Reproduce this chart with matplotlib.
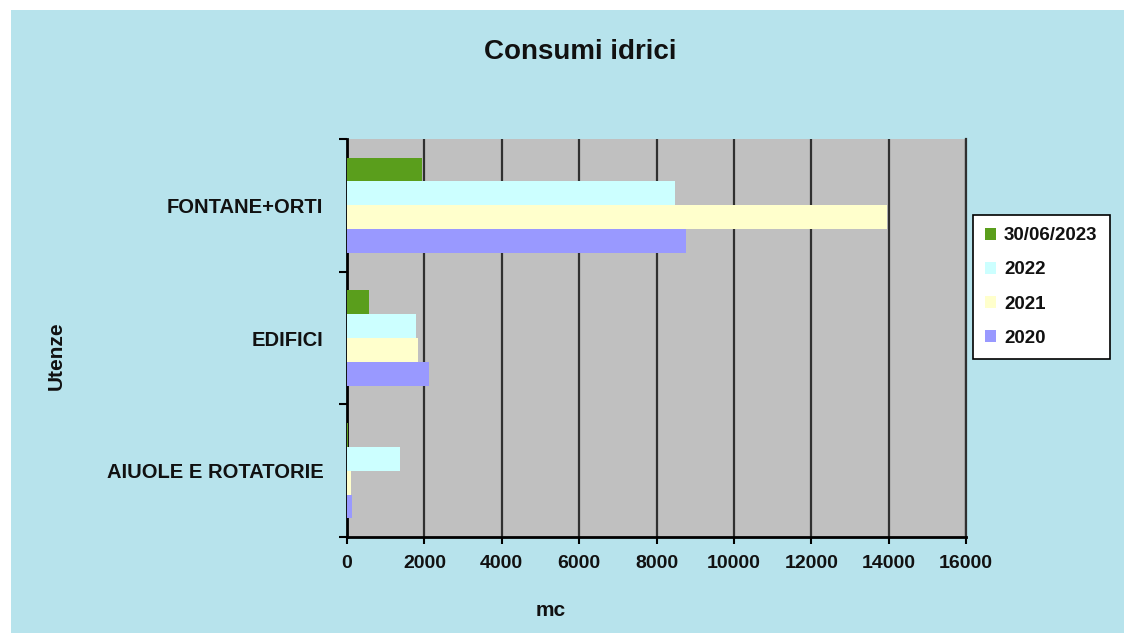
import matplotlib
matplotlib.use("Agg")
import matplotlib.pyplot as plt
import numpy as np
from matplotlib.patches import Rectangle

categories = ["AIUOLE E ROTATORIE", "EDIFICI", "FONTANE+ORTI"]
series_names = ["30/06/2023", "2022", "2021", "2020"]
v_2023 = [20, 570, 1950]
v_2022 = [1380, 1785, 8480]
v_2021 = [110, 1835, 13950]
v_2020 = [120, 2115, 8750]
x_ticks = [0, 2000, 4000, 6000, 8000, 10000, 12000, 14000, 16000]

colors = ["#5a9e1c", "#ccffff", "#ffffcc", "#9999ff"]
font = "Liberation Sans"

fig = plt.figure(figsize=(11.24, 6.33), dpi=100)
fig.patch.set_facecolor("white")
fig.patches.append(Rectangle((11/1124, 0), 1 - 11/1124, 1 - 10/633,
                             transform=fig.transFigure, facecolor="#b7e3ec",
                             edgecolor="none", zorder=-10))

ax = fig.add_axes([347/1124, 96/633, 619/1124, 398/633])
ax.set_facecolor("#c0c0c0")

y = np.arange(len(categories))
h = 0.18
offsets = [0.27, 0.09, -0.09, -0.27]
for vals, off, c, name in zip([v_2023, v_2022, v_2021, v_2020], offsets, colors, series_names):
    ax.barh(y + off, vals, height=h, color=c, edgecolor="none", label=name, zorder=3)

ax.set_xlim(0, 16000)
ax.set_ylim(-0.5, 2.5)
ax.set_xticks(x_ticks)
ax.set_xticklabels([str(t) for t in x_ticks], fontsize=14, fontweight="bold", family=font, color="#111111")
ax.xaxis.grid(True, color="#303030", linewidth=1.6, zorder=1)
ax.set_axisbelow(True)

ax.set_yticks([-0.5, 0.5, 1.5, 2.5])
ax.set_yticklabels([])
ax.set_yticks(y, minor=True)
ax.set_yticklabels(categories, minor=True, fontsize=14.5, fontweight="bold", family=font, color="#111111")
ax.tick_params(axis="y", which="minor", length=0, pad=17)
ax.tick_params(axis="y", which="major", length=6, width=1.5, direction="out")
ax.tick_params(axis="x", length=5, width=1.5, direction="out", pad=8)

ax.spines["top"].set_visible(False)
ax.spines["right"].set_color("#303030")
ax.spines["right"].set_linewidth(1.6)
ax.spines["left"].set_linewidth(2)
ax.spines["bottom"].set_linewidth(2)

fig.text(580/1124, 1 - 52/633, "Consumi idrici", ha="center", va="center",
         fontsize=20, fontweight="bold", family=font, color="#111111")
fig.text(56/1124, 1 - 356/633, "Utenze", ha="center", va="center", rotation=90,
         fontsize=15, fontweight="bold", family=font, color="#111111")
fig.text(551/1124, 1 - 610/633, "mc", ha="center", va="center",
         fontsize=15, fontweight="bold", family=font, color="#111111")

leg = ax.legend(loc="upper left", bbox_to_anchor=(973/1124, 1 - 215/633),
                bbox_transform=fig.transFigure, frameon=True, fancybox=False,
                framealpha=1,
                prop={"family": font, "weight": "bold", "size": 13.5},
                handlelength=0.6, handleheight=0.6, handletextpad=0.4,
                labelspacing=0.92, borderpad=0.65, borderaxespad=0)
leg.get_frame().set_edgecolor("black")
leg.get_frame().set_linewidth(1.2)
leg.get_frame().set_facecolor("white")
for t in leg.get_texts():
    t.set_color("#111111")

fig.savefig("out.png", dpi=100, facecolor=fig.get_facecolor())
